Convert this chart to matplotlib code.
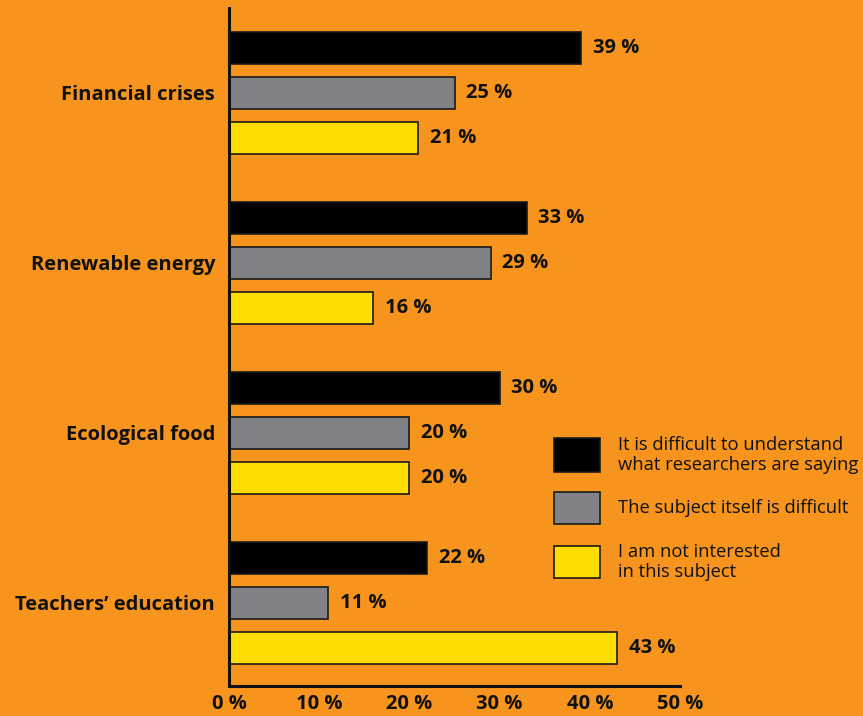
import matplotlib
matplotlib.use("Agg")
import matplotlib.pyplot as plt
from matplotlib.patches import Rectangle
import numpy as np

categories = ["Financial crises", "Renewable energy", "Ecological food", "Teachers\u2019 education"]
series_names = [
    "It is difficult to understand\nwhat researchers are saying",
    "The subject itself is difficult",
    "I am not interested\nin this subject",
]
difficult_to_understand = [39, 33, 30, 22]
subject_difficult = [25, 29, 20, 11]
not_interested = [21, 16, 20, 43]
x_ticks = [0, 10, 20, 30, 40, 50]
x_tick_labels = ["0 %", "10 %", "20 %", "30 %", "40 %", "50 %"]

BG = "#F7941E"
colors = ["#000000", "#808285", "#FFDD00"]
series = [difficult_to_understand, subject_difficult, not_interested]

W, H = 863, 716
fig = plt.figure(figsize=(W / 100, H / 100), dpi=100, facecolor=BG)
ax = fig.add_axes([229 / W, (H - 686) / H, (680 - 229) / W, (686 - 8) / H])
ax.set_facecolor(BG)

FONT = "Open Sans"
y = np.arange(len(categories))
offsets = [-0.265, 0.0, 0.265]
bar_h = 0.19
for vals, off, col in zip(series, offsets, colors):
    ax.barh(y + off, vals, height=bar_h, color=col, edgecolor="#1a1a1a", linewidth=1.2)
    for yi, v in zip(y, vals):
        ax.annotate(f"{v} %", xy=(v, yi + off), xytext=(8.5, 0), textcoords="offset points",
                    va="center", ha="left", fontsize=14.5, fontweight="bold",
                    family=FONT, color="#111111")

ax.set_xlim(0, 50)
ax.set_ylim(3.49, -0.5)
ax.set_yticks(y)
ax.set_yticklabels(categories, fontsize=14.5, fontweight="bold", family=FONT, color="#111111")
ax.set_xticks(x_ticks)
ax.set_xticklabels(x_tick_labels, fontsize=14.5, fontweight="bold", family=FONT, color="#111111")
ax.tick_params(axis="both", length=0)
ax.tick_params(axis="y", pad=10)
ax.tick_params(axis="x", pad=6)
for s in ["top", "right"]:
    ax.spines[s].set_visible(False)
for s in ["left", "bottom"]:
    ax.spines[s].set_linewidth(2.2)
    ax.spines[s].set_color("#111111")

# Legend boxes with labels
legend_rows = [(438, 472), (492, 524), (546, 578)]
for (top, bot), col, name in zip(legend_rows, colors, series_names):
    fig.patches.append(Rectangle((554 / W, (H - bot) / H), 46 / W, (bot - top) / H,
                                 transform=fig.transFigure, facecolor=col,
                                 edgecolor="#1a1a1a", linewidth=1.2))
    fig.text(618 / W, (H - (top + bot) / 2) / H, name, fontsize=13.2, family=FONT,
             va="center", ha="left", color="#111111", linespacing=1.15)

fig.savefig("out.png", dpi=100, facecolor=BG)
